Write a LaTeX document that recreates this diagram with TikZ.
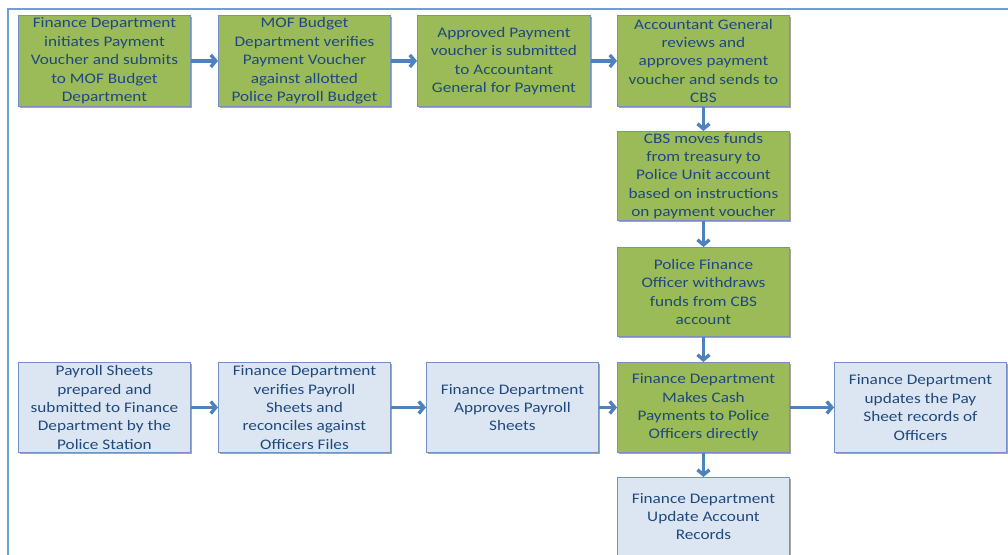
\documentclass[tikz,border=0pt]{standalone}
\usepackage{fontspec}
\setmainfont{Carlito}[FakeStretch=1.18]
\usetikzlibrary{arrows.meta,shadows}
\definecolor{gfill}{RGB}{155,187,89}
\definecolor{bfill}{RGB}{220,230,242}
\definecolor{bdr}{RGB}{115,145,195}
\definecolor{txt}{RGB}{31,73,125}
\definecolor{arr}{RGB}{79,129,189}
\definecolor{framec}{RGB}{110,160,215}
\tikzset{
  stepbox/.style={draw=bdr, line width=0.9pt, anchor=north west,
    minimum width=172pt, minimum height=90pt, inner sep=0pt, align=center,
    text=txt, font=\fontsize{14.6}{18.4}\selectfont,
    drop shadow={shadow xshift=1.5pt, shadow yshift=-2pt, opacity=0.35, fill=black}},
  gbox/.style={stepbox, fill=gfill},
  lbox/.style={stepbox, fill=bfill},
  flow/.style={draw=arr, line width=3.4pt, -{Straight Barb[length=5pt,width=12pt]}}
}
\begin{document}
\begin{tikzpicture}[x=1pt,y=-1pt]
\useasboundingbox (0,0) rectangle (1008,554);
\clip (0,0) rectangle (1008,554);
\draw[framec, line width=2pt] (8,9) rectangle (1040,620);
% top row
\node[gbox, minimum height=91pt] (b1) at (18,15) {Finance Department\\initiates Payment\\Voucher and submits\\to MOF Budget\\Department};
\node[gbox, minimum height=91pt] (b2) at (218,15) {MOF Budget\\Department verifies\\Payment Voucher\\against allotted\\Police Payroll Budget};
\node[gbox, minimum width=173pt, minimum height=91pt] (b3) at (417,15) {Approved Payment\\voucher is submitted\\to Accountant\\General for Payment};
\node[gbox, minimum height=91pt] (b4) at (617,15) {Accountant General\\reviews and\\approves payment\\voucher and sends to\\CBS};
\node[gbox, minimum height=89pt] (b5) at (617,131) {CBS moves funds\\from treasury to\\Police Unit account\\based on instructions\\on payment voucher};
\node[gbox, minimum height=89pt] (b6) at (617,247) {Police Finance\\Officer withdraws\\funds from CBS\\account};
% bottom row
\node[lbox] (c1) at (18,362) {Payroll Sheets\\prepared and\\submitted to Finance\\Department by the\\Police Station};
\node[lbox] (c2) at (218,362) {Finance Department\\verifies Payroll\\Sheets and\\reconciles against\\Officers Files};
\node[lbox] (c3) at (426,362) {Finance Department\\Approves Payroll\\Sheets};
\node[gbox] (c4) at (617,362) {Finance Department\\Makes Cash\\Payments to Police\\Officers directly};
\node[lbox] (c5) at (834,362) {Finance Department\\updates the Pay\\Sheet records of\\Officers};
\node[lbox, minimum height=78pt] (c6) at (617,477) {Finance Department\\Update Account\\Records};
% connectors
\draw[flow] (b1.east) -- (b2.west);
\draw[flow] (b2.east) -- (b3.west);
\draw[flow] (b3.east) -- (b4.west);
\draw[flow] (b4.south) -- (b5.north);
\draw[flow] (b5.south) -- (b6.north);
\draw[flow] (b6.south) -- (c4.north);
\draw[flow] (c1.east) -- (c2.west);
\draw[flow] (c2.east) -- (c3.west);
\draw[flow] (c3.east) -- (c4.west);
\draw[flow] (c4.east) -- (c5.west);
\draw[flow] (c4.south) -- (c6.north);
\end{tikzpicture}
\end{document}
